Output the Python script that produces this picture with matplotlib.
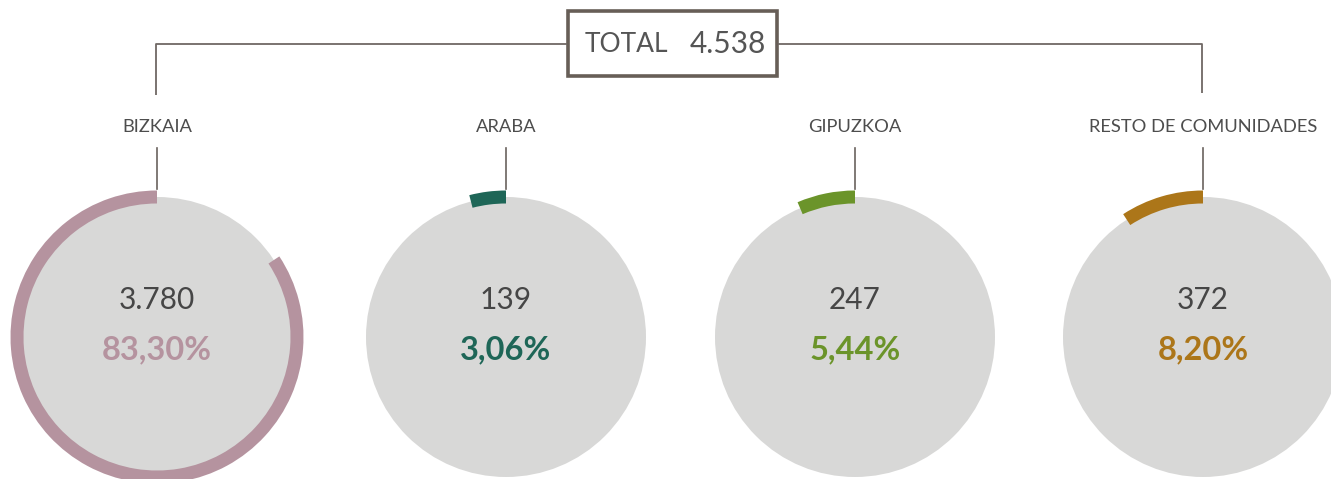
import matplotlib
matplotlib.use("Agg")
import matplotlib.pyplot as plt
from matplotlib.patches import Circle, Wedge, Rectangle

# ---- data ----
regions = ["BIZKAIA", "ARABA", "GIPUZKOA", "RESTO DE COMUNIDADES"]
counts = [3780, 139, 247, 372]
percents = [83.30, 3.06, 5.44, 8.20]
total = 4538
colors = ["#b5939f", "#1e6657", "#6b942a", "#ac7619"]

def fmt_int(v):
    return f"{v:,}".replace(",", ".")

def fmt_pct(v):
    return f"{v:.2f}".replace(".", ",") + "%"

W, H = 1331, 479
fig = plt.figure(figsize=(W / 100, H / 100), dpi=100)
ax = fig.add_axes([0, 0, 1, 1])
ax.set_xlim(0, W)
ax.set_ylim(0, H)
ax.set_aspect("equal")
ax.axis("off")

def Y(y):
    return H - y

cx = [157, 506, 855, 1203]
cy = Y(337)
R = 140
ring_w = 13
arc_pad = 3.5  # small visual extension of arcs, in degrees

line_col = "#6f6865"
# connector lines
ax.plot([cx[0] - 1, cx[0] - 1, 567], [Y(95), Y(44), Y(44)], color=line_col, lw=1.3,
        solid_capstyle="butt")
ax.plot([778, 1202, 1202], [Y(44), Y(44), Y(93)], color=line_col, lw=1.3,
        solid_capstyle="butt")
# total box
ax.add_patch(Rectangle((568, Y(76)), 209, 65, fill=False, edgecolor="#675e57", lw=2.6))
ax.text(585, Y(44), "TOTAL", ha="left", va="center", fontsize=19, family="Lato",
        color="#555555")
ax.text(766, Y(44), fmt_int(total), ha="right", va="center", fontsize=21.5, family="Lato",
        color="#555555")

for i, (name, n, p, c) in enumerate(zip(regions, counts, percents, colors)):
    x = cx[i]
    ax.text(x, Y(127), name, ha="center", va="center", fontsize=13.2, family="Lato",
            color="#4d4d4d")
    ax.plot([x, x], [Y(148), Y(189)], color="#6a625e", lw=1.2)
    ax.add_patch(Circle((x, cy), R, facecolor="#d8d8d7", edgecolor="none"))
    ax.add_patch(Wedge((x, cy), R + 6.5, 90, 90 + p * 3.6 + arc_pad, width=ring_w,
                       facecolor=c, edgecolor="none"))
    ax.text(x, Y(300), fmt_int(n), ha="center", va="center", fontsize=21.5,
            family="Lato", color="#464646")
    ax.text(x, Y(350), fmt_pct(p), ha="center", va="center", fontsize=23.5,
            family="Lato", fontweight="bold", color=c)

fig.savefig("out.png", dpi=100, facecolor="white")
